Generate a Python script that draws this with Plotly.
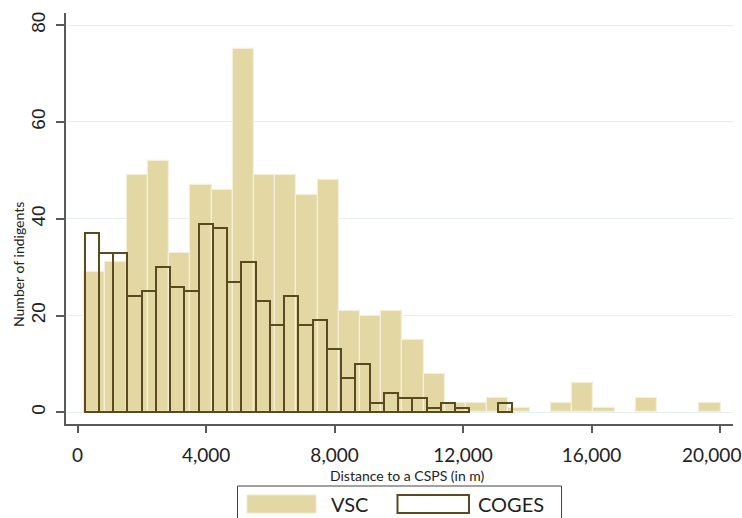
import plotly.graph_objects as go

# ---- data ----
vsc_counts = [29, 31, 49, 52, 33, 47, 46, 75, 49, 49, 45, 48, 21, 20, 21,
              15, 8, 2, 2, 3, 1, 0, 2, 6, 1, 0, 3, 0, 0, 2]
vsc_bin_start = 206.0
vsc_bin_width = 660.4

coges_counts = [37, 33, 33, 24, 25, 30, 26, 25, 39, 38, 27, 31, 23, 18, 24,
                18, 19, 13, 7, 10, 2, 4, 3, 3, 1, 2, 1, 0, 0, 2]
coges_bin_start = 218.0
coges_bin_width = 443.6

x_ticks = [0, 4000, 8000, 12000, 16000, 20000]
x_tick_labels = ["0", "4,000", "8,000", "12,000", "16,000", "20,000"]
y_ticks = [0, 20, 40, 60, 80]

series_names = ["VSC", "COGES"]
x_title = "Distance to a CSPS (in m)"
y_title = "Number of indigents"

# ---- derived ----
vsc_x = [vsc_bin_start + (i + 0.5) * vsc_bin_width for i in range(len(vsc_counts))]
coges_x = [coges_bin_start + (i + 0.5) * coges_bin_width for i in range(len(coges_counts))]
vsc_y = [v if v > 0 else None for v in vsc_counts]
coges_y = [v if v > 0 else None for v in coges_counts]
# the last label is nudged left of its tick (as in the original) so it fits the page
x_tick_text = x_tick_labels[:-1] + [""]

SAND = "#e3d8a3"
BROWN = "#5b4920"
AXIS = "#5a5a5a"
GRID = "#e6eff1"
FONT = "Lato"
TXT = "#222222"

PAGE_W, PAGE_H = 742, 518
PLOT_L, PLOT_R, PLOT_T, PLOT_B = 66, 733, 13, 424  # plot area in window pixels

fig = go.Figure()
fig.add_trace(go.Bar(
    x=vsc_x, y=vsc_y, width=vsc_bin_width, name=series_names[0],
    marker=dict(color=SAND, line=dict(color="#f4efda", width=1.2)),
    showlegend=False,
))
fig.add_trace(go.Bar(
    x=coges_x, y=coges_y, width=coges_bin_width, name=series_names[1],
    marker=dict(color="rgba(0,0,0,0)", line=dict(color=BROWN, width=2)),
    showlegend=False,
))

fig.update_layout(
    width=PAGE_W, height=PAGE_H,
    margin=dict(l=PLOT_L, r=PAGE_W - PLOT_R, t=PLOT_T,
                b=PAGE_H - PLOT_B, autoexpand=False),
    paper_bgcolor="white", plot_bgcolor="white",
    barmode="overlay", bargap=0,
    font=dict(family=FONT, color=TXT),
)
fig.update_xaxes(
    range=[-362, 20405], tickvals=x_ticks, ticktext=x_tick_text,
    showline=True, linecolor=AXIS, linewidth=1.5,
    ticks="outside", ticklen=7, tickcolor=AXIS, tickwidth=1.5,
    showgrid=False, zeroline=False, automargin=False,
    tickfont=dict(family=FONT, size=19, color=TXT),
    ticklabelstandoff=6,
)
fig.update_yaxes(
    range=[-2.4, 82.5], tickvals=y_ticks, tickangle=-90,
    showline=True, linecolor=AXIS, linewidth=1.5,
    ticks="outside", ticklen=8, tickcolor=AXIS, tickwidth=1.5,
    showgrid=True, gridcolor=GRID, gridwidth=1.2, zeroline=False,
    automargin=False,
    tickfont=dict(family="Liberation Sans", size=19, color=TXT),
    ticklabelstandoff=4,
)

W = PLOT_R - PLOT_L
H = PLOT_B - PLOT_T

def px(xp):
    return (xp - PLOT_L) / W

def py(yp):
    return (PLOT_B - yp) / H

# last x tick label, shifted left so it stays inside the page
fig.add_annotation(text=x_tick_labels[-1], xref="x", yref="paper",
                   x=x_ticks[-1], y=py(454.5), xshift=-8,
                   xanchor="center", yanchor="middle", showarrow=False,
                   font=dict(family=FONT, size=19, color=TXT))

# axis titles
fig.add_annotation(text=x_title, xref="paper", yref="paper",
                   x=px(407.5), y=py(475),
                   xanchor="center", yanchor="middle", showarrow=False,
                   font=dict(family=FONT, size=14, color=TXT))
fig.add_annotation(text=y_title, xref="paper", yref="paper",
                   x=px(18), y=py(265), textangle=-90,
                   xanchor="center", yanchor="middle", showarrow=False,
                   font=dict(family=FONT, size=14, color=TXT))

# legend (boxed key below the plot)
fig.add_shape(type="rect", xref="paper", yref="paper",
              x0=px(237.5), x1=px(561.5), y0=py(486), y1=py(540),
              line=dict(color="#444444", width=1), fillcolor="white")
fig.add_shape(type="rect", xref="paper", yref="paper",
              x0=px(247), x1=px(316), y0=py(495), y1=py(513),
              line=dict(color="#efe8cc", width=1), fillcolor=SAND)
fig.add_shape(type="rect", xref="paper", yref="paper",
              x0=px(397.5), x1=px(469), y0=py(495), y1=py(513),
              line=dict(color=BROWN, width=2), fillcolor="white")
fig.add_annotation(text=series_names[0], xref="paper", yref="paper",
                   x=px(329), y=py(504), xanchor="left", yanchor="middle",
                   showarrow=False, font=dict(family=FONT, size=20, color=TXT))
fig.add_annotation(text=series_names[1], xref="paper", yref="paper",
                   x=px(476), y=py(504), xanchor="left", yanchor="middle",
                   showarrow=False, font=dict(family=FONT, size=20, color=TXT))

fig.write_html(
    "out.html",
    config={"displayModeBar": False},
    post_script="document.body.style.margin='0';document.body.style.overflow='hidden';",
)
